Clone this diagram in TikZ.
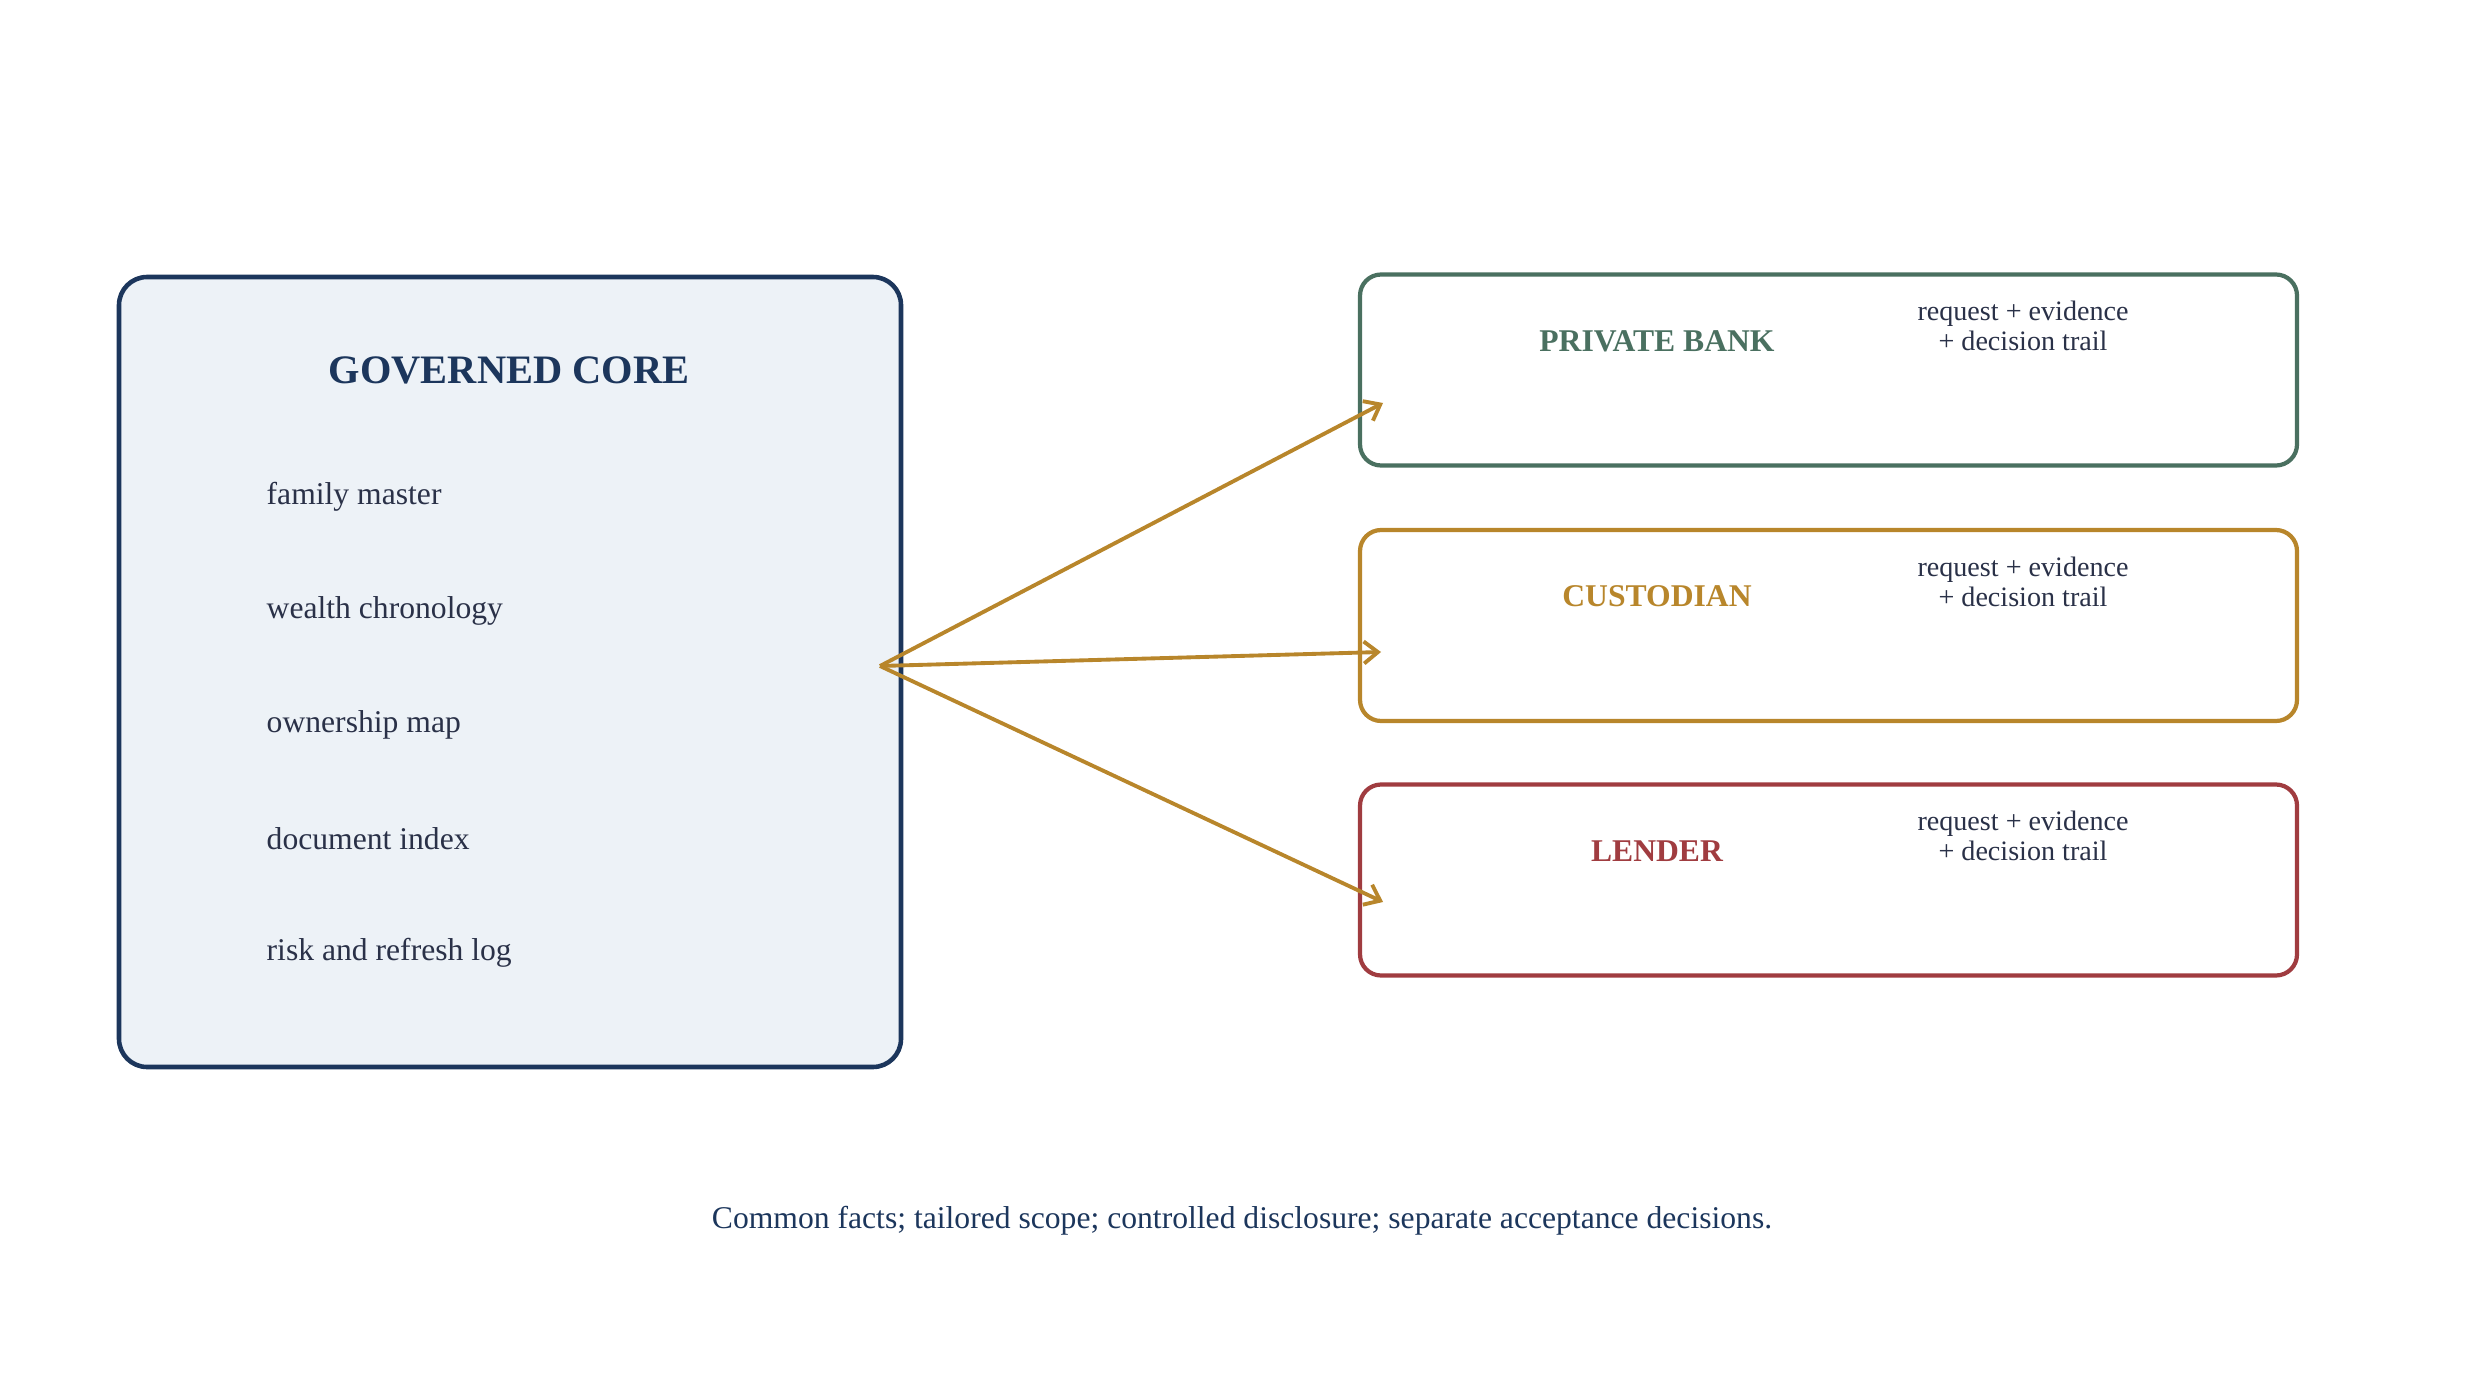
\documentclass[tikz,border=0pt]{standalone}
\usepackage{fontspec}
\setmainfont{Liberation Serif}
\usetikzlibrary{positioning,arrows.meta}
\definecolor{navy}{HTML}{1C365C}
\definecolor{corefill}{HTML}{EDF2F7}
\definecolor{bankgreen}{HTML}{4A7060}
\definecolor{custgold}{HTML}{B8862B}
\definecolor{lendred}{HTML}{A03C40}
\definecolor{inktext}{HTML}{2A3148}
\tikzset{
  corebox/.style={draw=navy, fill=corefill, line width=1.3pt, rounded corners=8pt,
    minimum width=7.82cm, minimum height=7.90cm},
  partybox/.style={draw=#1, fill=white, line width=1.2pt, rounded corners=6pt,
    minimum width=9.37cm, minimum height=1.91cm},
  partyname/.style={text=#1, font=\fontsize{9}{11}\selectfont\bfseries},
  itemtext/.style={text=inktext, anchor=west, inner sep=0pt, font=\fontsize{9}{11}\selectfont},
  notetext/.style={text=inktext, align=center, font=\fontsize{8}{8.5}\selectfont},
  fanout/.style={-{Straight Barb[length=1.4mm, width=2.2mm]}, draw=custgold, line width=1.1pt}
}
\begin{document}
\begin{tikzpicture}
\useasboundingbox (0,0) rectangle (24.86,-13.86);
% governed core
\node[corebox] (core) at (5.10,-6.72) {};
\node[text=navy, font=\fontsize{11.5}{13}\selectfont\bfseries] (coretitle) at (5.09,-3.70) {GOVERNED CORE};
\node[itemtext] (famil) at (2.66,-4.97) {family master};
\node[itemtext] (chron) at (2.66,-6.11) {wealth chronology};
\node[itemtext] (owner) at (2.66,-7.25) {ownership map};
\node[itemtext] (docix) at (2.66,-8.39) {document index};
\node[itemtext] (risk) at (2.66,-9.53) {risk and refresh log};
% recipients
\node[partybox=bankgreen] (bank) at (18.285,-3.70) {};
\node[partybox=custgold] (cust) at (18.285,-6.255) {};
\node[partybox=lendred] (lend) at (18.285,-8.80) {};
\node[partyname=bankgreen] (bankname) at (16.57,-3.41) {PRIVATE BANK};
\node[partyname=custgold] (custname) at (16.57,-5.965) {CUSTODIAN};
\node[partyname=lendred] (lendname) at (16.57,-8.51) {LENDER};
\node[notetext] (banknote) at (20.23,-3.26) {request + evidence\\+ decision trail};
\node[notetext] (custnote) at (20.23,-5.815) {request + evidence\\+ decision trail};
\node[notetext] (lendnote) at (20.23,-8.36) {request + evidence\\+ decision trail};
% fan-out arrows
\coordinate (hub) at (8.80,-6.66);
\coordinate (bankin) at (13.83,-4.03);
\coordinate (custin) at (13.81,-6.52);
\coordinate (lendin) at (13.83,-9.02);
\draw[fanout] (hub) -- (bankin);
\draw[fanout] (hub) -- (custin);
\draw[fanout] (hub) -- (lendin);
% footer
\node[text=navy, font=\fontsize{9}{11}\selectfont] (footer) at (12.42,-12.21) {Common facts; tailored scope; controlled disclosure; separate acceptance decisions.};
\end{tikzpicture}
\end{document}
